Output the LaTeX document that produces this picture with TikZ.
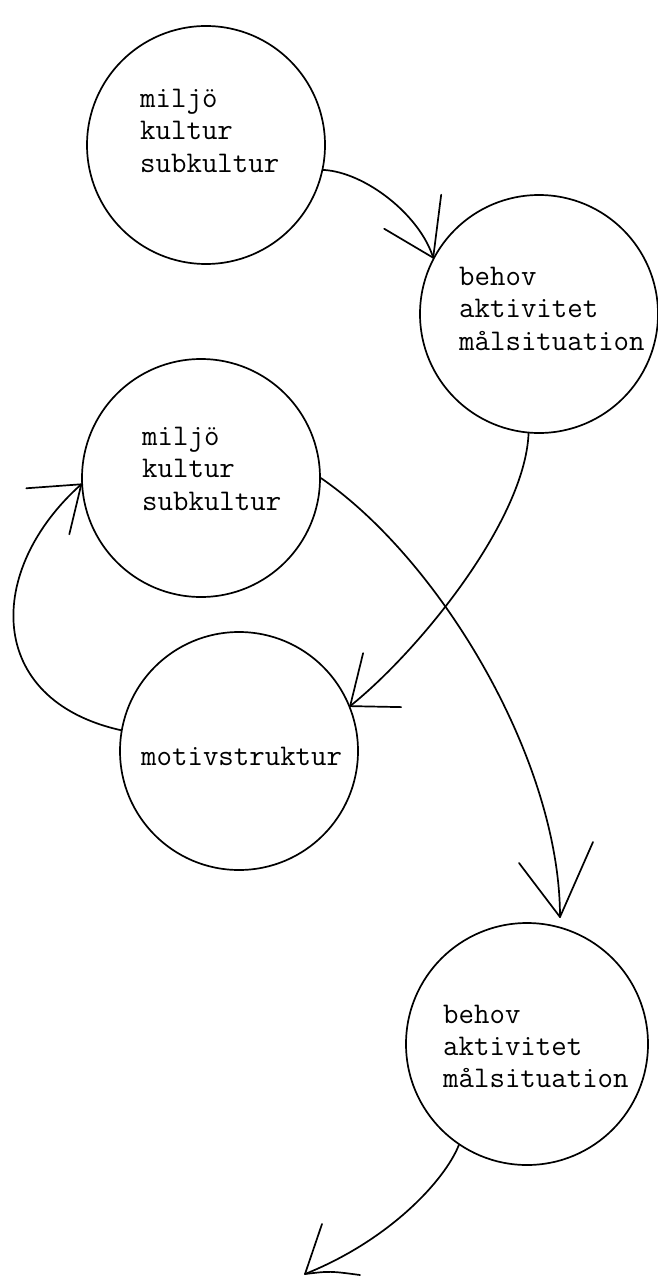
\documentclass[tikz,border=0pt]{standalone}
\usepackage{fontspec}
\begin{document}
\begin{tikzpicture}[x=1pt,y=-1pt,
  bubble/.style={circle, draw, line width=1.7pt, minimum size=#1, inner sep=0pt},
  word/.style={anchor=base west, inner sep=0pt, font=\fontsize{30}{32}\selectfont\ttfamily},
  conn/.style={line width=1.7pt, line cap=round, line join=round}]
\useasboundingbox (0,0) rectangle (658,1276);
% circles
\node[bubble=238pt] (c1) at (206,145) {};
\node[bubble=238pt] (c2) at (539,314) {};
\node[bubble=238pt] (c3) at (201,478) {};
\node[bubble=238pt] (c4) at (239,751) {};
\node[bubble=242pt] (c5) at (527,1044) {};
% texts
\node[word] (t1a) at (140,108) {miljö};
\node[word] (t1b) at (140,140) {kultur};
\node[word] (t1c) at (140,173) {subkultur};
\node[word] (t2a) at (459,285) {behov};
\node[word] (t2b) at (459,317) {aktivitet};
\node[word] (t2c) at (459,350) {målsituation};
\node[word] (t3a) at (142,445) {miljö};
\node[word] (t3b) at (142,477) {kultur};
\node[word] (t3c) at (142,510) {subkultur};
\node[word] (t4a) at (141,765) {motivstruktur};
\node[word] (t5a) at (443,1023) {behov};
\node[word] (t5b) at (443,1055) {aktivitet};
\node[word] (t5c) at (443,1087) {målsituation};
% free ends
\coordinate (tip3) at (560,917);
\coordinate (tip5) at (305,1274);
% connectors
\draw[conn] (c1.-12.6) .. controls (365,172) and (420,215) .. (c2.152);
\draw[conn] (c2.152) -- +(-49,-29);
\draw[conn] (c2.152) -- +(8,-63);
\draw[conn] (c2.-95) .. controls (525,520) and (420,650) .. (c4.22);
\draw[conn] (c4.22) -- +(13,-53);
\draw[conn] (c4.22) -- +(51,1);
\draw[conn] (c3.0) .. controls (440,560) and (560,760) .. (tip3);
\draw[conn] (tip3) -- +(-41,-54);
\draw[conn] (tip3) -- +(33,-75);
\draw[conn] (c4.170.5) .. controls (-15,700) and (-15,570) .. (c3.183);
\draw[conn] (c3.183) -- +(-55,4);
\draw[conn] (c3.183) -- +(-12,50);
\draw[conn] (c5.-124.3) .. controls (445,1180) and (390,1240) .. (tip5);
\draw[conn] (tip5) -- +(17,-50);
\draw[conn] (tip5) .. controls +(25,-3) .. +(55,1);
\end{tikzpicture}
\end{document}
